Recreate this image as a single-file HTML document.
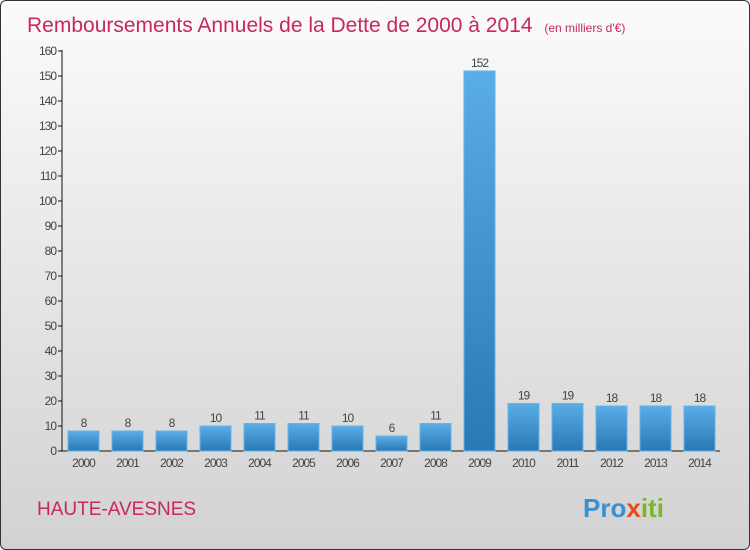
<!DOCTYPE html>
<html><head><meta charset="utf-8"><style>
body{margin:0;width:750px;height:550px;overflow:hidden;font-family:"Liberation Sans",sans-serif}
#c{position:absolute;left:0;top:0;width:748px;height:548px;border:1px solid #333;border-radius:6px;background:linear-gradient(#fbfbfb,#d2d2d2);overflow:hidden}
</style></head><body>
<div id="c">
<svg width="750" height="550">
<defs><linearGradient id="g" x1="0" y1="0" x2="0" y2="1"><stop offset="0" stop-color="#5aade6"/><stop offset="1" stop-color="#2a78b5"/></linearGradient></defs>
<text x="26" y="31" font-size="21" fill="#c8285a">Remboursements Annuels de la Dette de 2000 à 2014 <tspan font-size="12" dx="6">(en milliers d'€)</tspan></text>
<g id="axes"></g><g id="bars"></g>
<text x="36" y="514" font-size="19" fill="#c8285a">HAUTE-AVESNES</text>
<text x="582" y="516" font-size="26" font-weight="bold" fill="#3a8fd0">Pro<tspan fill="#e84a1a">x</tspan><tspan fill="#7ab82a">iti</tspan></text>
</svg></div>
<script>
const years=["2000","2001","2002","2003","2004","2005","2006","2007","2008","2009","2010","2011","2012","2013","2014"];
const values=[8,8,8,10,11,11,10,6,11,152,19,19,18,18,18];
const ticks=[0,10,20,30,40,50,60,70,80,90,100,110,120,130,140,150,160];
const NS="http://www.w3.org/2000/svg";
const y=v=>450-v*2.5, x=i=>82.5+i*44;
function mk(t,a,p){const e=document.createElementNS(NS,t);for(const k in a)e.setAttribute(k,a[k]);p.appendChild(e);return e;}
const ax=document.getElementById('axes'),bs=document.getElementById('bars');
const yl=mk('line',{x1:61,y1:49,x2:61,y2:450,stroke:'#111'},ax);


const xl=mk('line',{x1:61,y1:450,x2:719,y2:450,stroke:'#111'},ax);


ticks.forEach(t=>{
 mk('line',{x1:57,y1:y(t),x2:61,y2:y(t),stroke:'#111'},ax);
 const tx=mk('text',{x:55,y:y(t)+4,'font-size':12,fill:'#444','text-anchor':'end','letter-spacing':'-1'},ax);
 tx.textContent=t;
 
 
});
years.forEach((yr,i)=>{
 const r=mk('rect',{x:x(i)-15.5,y:y(values[i]),width:31,height:450-y(values[i]),fill:'url(#g)',stroke:'#63b4ec','stroke-width':1},bs);
 
 
 const v=mk('text',{x:x(i),y:y(values[i])-4,'font-size':12,fill:'#444','text-anchor':'middle','letter-spacing':'-1'},bs);
 v.textContent=values[i];
 
 
 const l=mk('text',{x:x(i),y:466,'font-size':12,fill:'#444','text-anchor':'middle','letter-spacing':'-1'},bs);
 l.textContent=yr;
 
 
});
</script></body></html>
